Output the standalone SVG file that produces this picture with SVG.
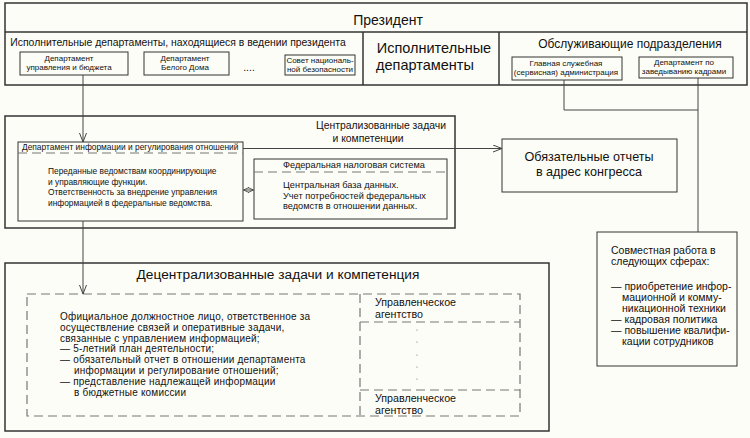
<svg xmlns="http://www.w3.org/2000/svg" width="750" height="438" viewBox="0 0 750 438">
<defs>
<style>
text{font-family:"Liberation Sans",Arial,sans-serif;fill:#111}
.box{fill:none;stroke:#333;stroke-width:1.5}
.sbox{fill:#fdfdf7;stroke:#333;stroke-width:1}
.dash{fill:none;stroke:#777;stroke-width:1.2;stroke-dasharray:9,5}
.ln{fill:none;stroke:#444;stroke-width:1}
.s7{font-size:8px}
.s9{font-size:8.4px}
.f9{font-size:9.2px}
.s10{font-size:10.5px}
.s12{font-size:10.4px}
.s14{font-size:14.5px}
.c{text-anchor:middle}
.body{font-size:10px;letter-spacing:0.2px}
</style>
<marker id="ah" viewBox="0 0 10 8" refX="9" refY="4" markerWidth="10" markerHeight="8" markerUnits="userSpaceOnUse" orient="auto-start-reverse">
<path d="M0,0.5 L9,4 L0,7.5" fill="none" stroke="#444" stroke-width="1"/>
</marker>
<marker id="ahs" viewBox="0 0 6 6" refX="5.5" refY="3" markerWidth="6" markerHeight="6" markerUnits="userSpaceOnUse" orient="auto-start-reverse">
<path d="M0,0.5 L5.5,3 L0,5.5" fill="none" stroke="#444" stroke-width="0.9"/>
</marker>
</defs>
<rect width="750" height="438" fill="#fdfdf7"/>

<g id="president">
<rect class="box" x="5" y="3" width="742" height="82"/>
<line class="box" x1="5" y1="32" x2="747" y2="32"/>
<line class="box" x1="363" y1="32" x2="363" y2="85"/>
<line class="box" x1="499" y1="32" x2="499" y2="85"/>
<text x="388" y="25" class="c" style="font-size:14px">Президент</text>
<text x="178" y="46" class="c s12">Исполнительные департаменты, находящиеся в ведении президента</text>
<text x="434" y="53" class="c s14">Исполнительные</text>
<text x="425" y="70" class="c s14">департаменты</text>
<text x="630" y="48" class="c" style="font-size:12px">Обслуживающие подразделения</text>
<text x="249" y="71" class="c s10">....</text>
</g>

<g id="dept-budget">
<rect class="sbox" x="20" y="52" width="108" height="23"/>
<text x="69" y="61" class="c s7">Департамент</text>
<text x="69" y="70" class="c s7">управления и бюджета</text>
</g>
<g id="dept-whitehouse">
<rect class="sbox" x="144" y="52" width="85" height="23"/>
<text x="185" y="61" class="c s7">Департамент</text>
<text x="185" y="70" class="c s7">Белого Дома</text>
</g>
<g id="dept-security">
<rect class="sbox" x="285" y="55" width="70" height="20"/>
<text x="320" y="63" class="c s7">Совет националь-</text>
<text x="320" y="72" class="c s7">ной безопасности</text>
</g>
<g id="dept-admin">
<rect class="sbox" x="512" y="57" width="110" height="23"/>
<text x="566" y="66" class="c s7">Главная служебная</text>
<text x="566" y="75" class="c s7">(сервисная) администрация</text>
</g>
<g id="dept-hr">
<rect class="sbox" x="639" y="57" width="94" height="21"/>
<text x="684" y="65" class="c s7">Департамент по</text>
<text x="684" y="74" class="c s7">заведыванию кадрами</text>
</g>

<g id="centralized">
<rect class="box" x="5" y="116" width="450" height="112"/>
<text x="381" y="129" class="c s12">Централизованные задачи</text>
<text x="368" y="142" class="c s12">и компетенции</text>
</g>

<g id="dept-info">
<rect class="sbox" x="18" y="142" width="225" height="79"/>
<line class="dash" x1="18" y1="153" x2="243" y2="153"/>
<text x="22" y="150" class="s9">Департамент информации и  регулирования отношений</text>
<text x="48" y="174" class="s9">Переданные ведомствам координирующие</text>
<text x="48" y="184.5" class="s9">и управляющие функции.</text>
<text x="48" y="195" class="s9">Ответственность за внедрение управления</text>
<text x="48" y="205.5" class="s9">информацией в федеральные ведомства.</text>
</g>

<g id="tax-system">
<rect class="sbox" x="254" y="159" width="193" height="60"/>
<line class="dash" x1="254" y1="172" x2="447" y2="172"/>
<text x="283" y="168" class="f9">Федеральная налоговая система</text>
<text x="283" y="188" class="f9">Центральная база данных.</text>
<text x="283" y="198.5" class="f9">Учет потребностей федеральных</text>
<text x="283" y="209" class="f9">ведомств в отношении данных.</text>
</g>

<g id="congress">
<rect class="sbox" x="502" y="139" width="175" height="53"/>
<text x="589" y="161" class="c" style="font-size:12.6px">Обязательные отчеты</text>
<text x="589" y="176" class="c" style="font-size:12.6px">в адрес конгресса</text>
</g>

<g id="decentralized">
<rect class="box" x="5" y="263" width="544" height="168"/>
<text x="278" y="279" class="c" style="font-size:13.7px">Децентрализованные задачи и компетенция</text>
<rect class="dash" x="27" y="294" width="493" height="122"/>
<line class="dash" x1="360" y1="294" x2="360" y2="416"/>
<line class="dash" x1="360" y1="322" x2="520" y2="322"/>
<line class="dash" x1="360" y1="390" x2="520" y2="390"/>
<g class="body">
<text x="60" y="320">Официальное должностное лицо, ответственное за</text>
<text x="60" y="330.8">осуществление связей и оперативные задачи,</text>
<text x="60" y="341.6">связанные с управлением информацией;</text>
<text x="60" y="352.4">— 5-летний план деятельности;</text>
<text x="60" y="363.2">— обязательный отчет в отношении департамента</text>
<text x="74" y="374">информации и регулирование отношений;</text>
<text x="60" y="384.8">— представление надлежащей информации</text>
<text x="74" y="395.6">в бюджетные комиссии</text>
</g>
<g style="font-size:10.7px">
<text x="375" y="306">Управленческое</text>
<text x="375" y="318">агентство</text>
<text x="375" y="402">Управленческое</text>
<text x="375" y="414">агентство</text>
</g>
<g fill="#666">
<circle cx="417" cy="330" r="0.6"/>
<circle cx="417" cy="342" r="0.6"/>
<circle cx="417" cy="355" r="0.6"/>
<circle cx="417" cy="367" r="0.6"/>
<circle cx="417" cy="379" r="0.6"/>
</g>
</g>

<g id="joint-work">
<rect class="sbox" x="597" y="232" width="140" height="134"/>
<g class="s10">
<text x="611" y="254">Совместная работа в</text>
<text x="611" y="265">следующих сферах:</text>
<text x="611" y="290">— приобретение инфор-</text>
<text x="622" y="301">мационной и комму-</text>
<text x="622" y="312">никационной техники</text>
<text x="611" y="323">— кадровая политика</text>
<text x="611" y="334">— повышение квалифи-</text>
<text x="622" y="345">кации сотрудников</text>
</g>
</g>

<g id="connectors">
<line class="ln" x1="83" y1="75" x2="83" y2="142" marker-end="url(#ah)"/>
<line class="ln" x1="83" y1="221" x2="83" y2="294" marker-end="url(#ah)"/>
<line class="ln" x1="243" y1="148.5" x2="502" y2="148.5" marker-end="url(#ah)"/>
<line class="ln" x1="243.5" y1="190" x2="253.5" y2="190" marker-start="url(#ahs)" marker-end="url(#ahs)"/>
<polyline class="ln" points="564,80 564,110 698,110"/>
<line class="ln" x1="698" y1="78" x2="698" y2="232"/>
</g>
</svg>
